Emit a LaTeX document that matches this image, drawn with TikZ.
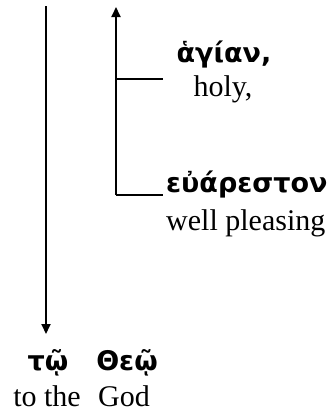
\documentclass[tikz,border=0pt]{standalone}
\usepackage{fontspec}
\setmainfont{Liberation Serif}
\newfontfamily\grk{DejaVu Sans}
\usetikzlibrary{arrows.meta}
\begin{document}
\begin{tikzpicture}[x=1pt,y=-1pt,
  line/.style={line width=1.8pt},
  arr/.style={line width=1.8pt,-{Triangle[length=10pt,width=9pt]}},
  gk/.style={font=\grk\bfseries\fontsize{27}{30}\selectfont,inner sep=0pt},
  en/.style={font=\fontsize{30}{34}\selectfont,inner sep=0pt}]
\useasboundingbox (0,0) rectangle (334,415);
% main verb line
\coordinate (vtop) at (46,6);
\coordinate (vbot) at (46,334);
\draw[arr] (vtop) -- (vbot);
% modifier line
\coordinate (mtop) at (116,7);
\coordinate (mbot) at (116,195);
\coordinate (mend) at (163,195);
\coordinate (bj) at (116,79);
\coordinate (bend) at (163,79);
\draw[arr] (mbot) -- (mtop);
\draw[line] (mbot) -- (mend);
\draw[line] (bj) -- (bend);
% texts
\node[gk] (hagian) at (224,55) {ἁγίαν,};
\node[en] (holy) at (223,89) {holy,};
\node[gk,anchor=west] (euar) at (166,185) {εὐάρεστον};
\node[en,anchor=west] (well) at (166,223) {well pleasing};
\node[gk] (to) at (48,363) {τῷ};
\node[gk] (theo) at (127,363) {Θεῷ};
\node[en] (tothe) at (47,396) {to the};
\node[en] (god) at (124,396) {God};
\end{tikzpicture}
\end{document}
